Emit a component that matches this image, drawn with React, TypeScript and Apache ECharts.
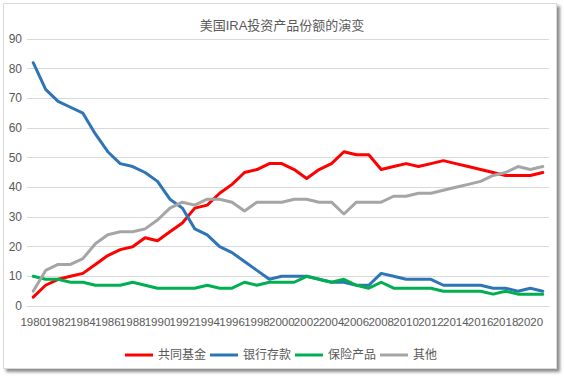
import React, { useEffect, useRef } from "react";
import * as echarts from "echarts";

const years: string[] = [];
for (let y = 1980; y <= 2021; y++) years.push(String(y));

const seriesNames = ["共同基金", "银行存款", "保险产品", "其他"];

const mutualFunds = [
  3, 7, 9, 10, 11, 14, 17, 19, 20, 23,
  22, 25, 28, 33, 34, 38, 41, 45, 46, 48,
  48, 46, 43, 46, 48, 52, 51, 51, 46, 47,
  48, 47, 48, 49, 48, 47, 46, 45, 44, 44,
  44, 45,
];
const bankDeposits = [
  82, 73, 69, 67, 65, 58, 52, 48, 47, 45,
  42, 36, 33, 26, 24, 20, 18, 15, 12, 9,
  10, 10, 10, 9, 8, 8, 7, 7, 11, 10,
  9, 9, 9, 7, 7, 7, 7, 6, 6, 5,
  6, 5,
];
const insurance = [
  10, 9, 9, 8, 8, 7, 7, 7, 8, 7,
  6, 6, 6, 6, 7, 6, 6, 8, 7, 8,
  8, 8, 10, 9, 8, 9, 7, 6, 8, 6,
  6, 6, 6, 5, 5, 5, 5, 4, 5, 4,
  4, 4,
];
const others = [
  5, 12, 14, 14, 16, 21, 24, 25, 25, 26,
  29, 33, 35, 34, 36, 36, 35, 32, 35, 35,
  35, 36, 36, 35, 35, 31, 35, 35, 35, 37,
  37, 38, 38, 39, 40, 41, 42, 44, 45, 47,
  46, 47,
];

const colors = ["#FF0000", "#2E75B6", "#00B050", "#A5A5A5"];
const FONT = "'Liberation Sans', 'Noto Sans CJK SC', sans-serif";

const labelStyle = {
  showMinLabel: true,
  showMaxLabel: true,
  hideOverlap: false,
  color: "#595959",
  fontSize: 11.5,
  fontFamily: FONT,
  margin: 10,
};

export default function App() {
  const ref = useRef<HTMLDivElement>(null);

  useEffect(() => {
    document.body.style.margin = "0";
    if (!ref.current) return;
    const chart = echarts.init(ref.current, null, { renderer: "svg" });
    const data = [mutualFunds, bankDeposits, insurance, others];
    chart.setOption({
      animation: false,
      title: {
        text: "美国IRA投资产品份额的演变",
        left: "center",
        top: 14,
        textStyle: { color: "#595959", fontSize: 13, fontWeight: "normal", fontFamily: FONT },
      },
      grid: { left: 27, right: 15, top: 39, bottom: 71 },
      legend: {
        left: 120,
        top: 344,
        icon: "rect",
        itemWidth: 28,
        itemHeight: 3,
        itemGap: 4,
        textStyle: { color: "#595959", fontSize: 12, fontFamily: FONT },
        data: seriesNames,
      },
      xAxis: [
        {
          type: "category",
          data: years,
          boundaryGap: true,
          position: "bottom",
          axisLine: { lineStyle: { color: "#D9D9D9", width: 1 } },
          axisTick: { show: false },
          axisLabel: { ...labelStyle, interval: (index: number) => index % 4 === 0 },
        },
        {
          type: "category",
          data: years,
          boundaryGap: true,
          position: "bottom",
          offset: 0,
          axisLine: { show: false },
          axisTick: { show: false },
          splitLine: { show: false },
          axisLabel: { ...labelStyle, interval: (index: number) => index % 4 === 2 },
        },
      ],
      yAxis: {
        type: "value",
        min: 0,
        max: 90,
        interval: 10,
        axisLine: { show: false },
        axisTick: { show: false },
        splitLine: { lineStyle: { color: "#D9D9D9", width: 1 } },
        axisLabel: { color: "#595959", fontSize: 12, fontFamily: FONT, margin: 5 },
      },
      series: seriesNames.map((name, i) => ({
        name,
        type: "line",
        xAxisIndex: 0,
        data: data[i],
        showSymbol: false,
        symbol: "none",
        color: colors[i],
        lineStyle: { color: colors[i], width: 3, join: "round", cap: "round" },
      })),
    });
    return () => chart.dispose();
  }, []);

  return (
    <div style={{ position: "absolute", left: 0, top: 0, width: 564, height: 377, background: "#fff" }}>
      <div
        style={{
          position: "absolute",
          left: 3,
          top: 3,
          width: 552,
          height: 364,
          border: "1px solid #D9D9D9",
          boxShadow: "3px 3px 3px rgba(0,0,0,0.45)",
          background: "#fff",
        }}
      />
      <div ref={ref} style={{ position: "absolute", left: 0, top: 0, width: 564, height: 377 }} />
    </div>
  );
}
